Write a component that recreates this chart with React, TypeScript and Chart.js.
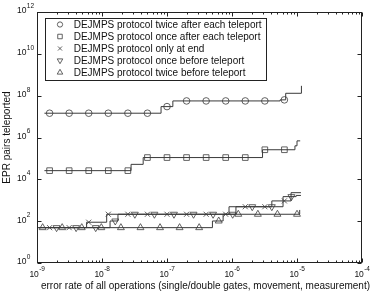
import React, { useEffect, useRef } from 'react';
import { Chart, registerables } from 'chart.js';

Chart.register(...registerables);

// ---------- data ----------
const seriesLabels = [
  'DEJMPS protocol twice after each teleport',
  'DEJMPS protocol once after each teleport',
  'DEJMPS protocol only at end',
  'DEJMPS protocol once before teleport',
  'DEJMPS protocol twice before teleport',
];

// circles: twice after each teleport
const circleStepX = [1.3e-9, 8.1e-8, 1.23e-7, 5.5e-6, 6.7e-6, 1.17e-5];
const circleStepY = [1.45e7, 3.0e7, 5.6e7, 6.3e7, 1.3e8, 2.95e8];
const circleMarkX = [1.5625e-9, 3.125e-9, 6.25e-9, 1.25e-8, 2.5e-8, 5e-8, 1e-7, 2e-7, 4e-7, 8e-7, 1.6e-6, 3.2e-6, 6.4e-6];
const circleMarkY = [1.45e7, 1.45e7, 1.45e7, 1.45e7, 1.45e7, 1.45e7, 3.0e7, 5.6e7, 5.6e7, 5.6e7, 5.6e7, 5.6e7, 6.3e7];

// squares: once after each teleport
const squareStepX = [1.3e-9, 2.8e-8, 4.3e-8, 2.95e-6, 9.3e-6, 1.0e-5, 1.12e-5];
const squareStepY = [2.6e4, 5.2e4, 1.1e5, 2.6e5, 4.0e5, 6.9e5, 6.9e5];
const squareMarkX = [1.5625e-9, 3.125e-9, 6.25e-9, 1.25e-8, 2.5e-8, 5e-8, 1e-7, 2e-7, 4e-7, 8e-7, 1.6e-6, 3.2e-6, 6.4e-6];
const squareMarkY = [2.6e4, 2.6e4, 2.6e4, 2.6e4, 2.6e4, 1.1e5, 1.1e5, 1.1e5, 1.1e5, 1.1e5, 1.1e5, 2.6e5, 2.6e5];

// crosses: only at end
const crossStepX = [1.05e-9, 5.8e-9, 1.18e-8, 9e-7, 4.1e-6, 8.1e-6, 1.15e-5];
const crossStepY = [49, 89, 214, 490, 930, 2300, 2300];
const crossMarkX = [1.5625e-9, 3.125e-9, 6.25e-9, 1.25e-8, 2.5e-8, 5e-8, 1e-7, 2e-7, 4e-7, 8e-7, 1.6e-6, 3.2e-6, 6.4e-6];
const crossMarkY = [49, 49, 89, 214, 214, 214, 214, 214, 214, 214, 490, 490, 930];

// down triangles: once before teleport
const downStepX = [1.05e-9, 1.33e-8, 1.76e-8, 1.15e-6, 6.1e-6, 9.7e-6, 1.15e-5];
const downStepY = [49, 102, 214, 490, 1490, 1700, 1700];
const downMarkX = [2e-9, 4e-9, 8e-9, 1.6e-8, 3.2e-8, 6.4e-8, 1.28e-7, 2.56e-7, 5.12e-7, 1.024e-6, 2.048e-6, 4.096e-6, 8.192e-6];
const downMarkY = [49, 49, 49, 102, 214, 214, 214, 214, 214, 214, 490, 490, 1490];

// up triangles: twice before teleport
const upStepX = [1.05e-9, 5.0e-7, 7.3e-7, 1.1e-5];
const upStepY = [49, 102, 214, 344];
const upMarkX = [1.2207e-9, 2.4414e-9, 4.8828e-9, 9.7656e-9, 1.9531e-8, 3.9063e-8, 7.8125e-8, 1.5625e-7, 3.125e-7, 6.25e-7, 1.25e-6, 2.5e-6, 5e-6, 1e-5];
const upMarkY = [49, 49, 49, 49, 49, 49, 49, 49, 49, 102, 214, 214, 214, 214];

const xTickExps = [-9, -8, -7, -6, -5, -4];
const yTickExps = [0, 2, 4, 6, 8, 10, 12];
const xTitle = 'error rate of all operations (single/double gates, movement, measurement)';
const yTitle = 'EPR pairs teleported';

// ---------- styling ----------
const FONT = '"Liberation Sans", Arial, Helvetica, sans-serif';
const LINE_COLOR = '#3a3a3a';
const MARK_COLOR = '#505050';
const AXIS_COLOR = '#222';

type MarkerStyle = 'circle' | 'rect' | 'crossRot' | 'triangleDown' | 'triangle';
const markerStyles: MarkerStyle[] = ['circle', 'rect', 'crossRot', 'triangleDown', 'triangle'];
const markerRadius = [3.3, 4, 3.6, 4, 4];

const zip = (xs: number[], ys: number[]) => xs.map((x, i) => ({ x, y: ys[i] }));

function drawMarker(ctx: CanvasRenderingContext2D, style: MarkerStyle, x: number, y: number, r: number) {
  ctx.beginPath();
  if (style === 'circle') {
    ctx.arc(x, y, r, 0, Math.PI * 2);
  } else if (style === 'rect') {
    const s = r * Math.SQRT1_2;
    ctx.rect(x - s, y - s, 2 * s, 2 * s);
  } else if (style === 'crossRot') {
    const s = r * Math.SQRT1_2;
    ctx.moveTo(x - s, y - s); ctx.lineTo(x + s, y + s);
    ctx.moveTo(x - s, y + s); ctx.lineTo(x + s, y - s);
  } else {
    const dir = style === 'triangle' ? 1 : -1;
    let a = 0;
    for (let k = 0; k < 3; k++) {
      const px = x + Math.sin(a) * r;
      const py = y - dir * Math.cos(a) * r;
      if (k === 0) ctx.moveTo(px, py); else ctx.lineTo(px, py);
      a += (2 * Math.PI) / 3;
    }
    ctx.closePath();
  }
  ctx.stroke();
}

function drawPow(ctx: CanvasRenderingContext2D, exp: number, x: number, y: number, mode: 'center' | 'rightBase') {
  const base = '10';
  const sup = String(exp);
  ctx.font = `8.5px ${FONT}`;
  const wb = ctx.measureText(base).width;
  ctx.font = `6.5px ${FONT}`;
  const ws = ctx.measureText(sup).width;
  let bx: number;
  if (mode === 'center') bx = x - (wb + ws) / 2;
  else bx = x - wb;
  ctx.textAlign = 'left';
  ctx.textBaseline = 'middle';
  ctx.font = `8.5px ${FONT}`;
  ctx.fillText(base, bx, y);
  ctx.font = `6.5px ${FONT}`;
  ctx.fillText(sup, bx + wb + 0.3, y - 4.8);
}

const decorPlugin = {
  id: 'decor',
  afterDraw(chart: any) {
    const { ctx, chartArea: a, scales } = chart;
    const xs = scales.x;
    const ys = scales.y;
    ctx.save();
    ctx.strokeStyle = AXIS_COLOR;
    ctx.fillStyle = AXIS_COLOR;
    ctx.lineWidth = 1;
    const L = Math.round(a.left) + 0.5;
    const R = Math.round(a.right) - 0.5;
    const T = Math.round(a.top) + 0.5;
    const B = Math.round(a.bottom) - 0.5;

    // x ticks (major + minor), inward on bottom and top
    ctx.beginPath();
    for (let e = -9; e <= -4; e++) {
      for (let m = 1; m <= 9; m++) {
        const v = m * Math.pow(10, e);
        if (v > 1e-4 * 1.0001) break;
        const px = Math.round(xs.getPixelForValue(v)) + 0.5;
        const len = m === 1 ? 4 : 2;
        ctx.moveTo(px, B); ctx.lineTo(px, B - len);
        ctx.moveTo(px, T); ctx.lineTo(px, T + len);
      }
    }
    // y ticks
    for (const e of yTickExps) {
      const py = Math.round(ys.getPixelForValue(Math.pow(10, e))) + 0.5;
      ctx.moveTo(L, py); ctx.lineTo(L + 4, py);
      ctx.moveTo(R, py); ctx.lineTo(R - 4, py);
    }
    ctx.stroke();

    // frame
    ctx.strokeRect(L, T, R - L, B - T);

    // tick labels
    ctx.fillStyle = '#111';
    for (const e of xTickExps) {
      const px = xs.getPixelForValue(Math.pow(10, e));
      drawPow(ctx, e, px, a.bottom + 11.5, 'center');
    }
    for (const e of yTickExps) {
      const py = ys.getPixelForValue(Math.pow(10, e));
      drawPow(ctx, e, a.left - 10.5, py - 1, 'rightBase');
    }

    // axis titles
    ctx.font = `10px ${FONT}`;
    ctx.textAlign = 'center';
    ctx.textBaseline = 'alphabetic';
    ctx.fillText(xTitle, 205.5, 288.5);
    ctx.save();
    ctx.translate(10.3, (a.top + a.bottom) / 2);
    ctx.rotate(-Math.PI / 2);
    ctx.fillText(yTitle, 0, 0);
    ctx.restore();

    // legend box
    const bx = 45.5, by = 18.5, bw = 221, bh = 62;
    ctx.fillStyle = '#fff';
    ctx.fillRect(bx, by, bw, bh);
    ctx.strokeStyle = AXIS_COLOR;
    ctx.strokeRect(bx, by, bw, bh);
    ctx.font = `10px ${FONT}`;
    ctx.textAlign = 'left';
    ctx.textBaseline = 'middle';
    for (let i = 0; i < seriesLabels.length; i++) {
      const cy = 24.5 + i * 12;
      ctx.strokeStyle = MARK_COLOR;
      ctx.lineWidth = 0.9;
      drawMarker(ctx, markerStyles[i], 60, cy, markerRadius[i] * 0.8);
      ctx.fillStyle = '#111';
      ctx.fillText(seriesLabels[i], 73.7, cy + 0.5);
    }
    ctx.restore();
  },
};

export default function App() {
  const ref = useRef<HTMLCanvasElement | null>(null);
  useEffect(() => {
    if (!ref.current) return;
    const steps = [
      zip(circleStepX, circleStepY),
      zip(squareStepX, squareStepY),
      zip(crossStepX, crossStepY),
      zip(downStepX, downStepY),
      zip(upStepX, upStepY),
    ];
    const marks = [
      zip(circleMarkX, circleMarkY),
      zip(squareMarkX, squareMarkY),
      zip(crossMarkX, crossMarkY),
      zip(downMarkX, downMarkY),
      zip(upMarkX, upMarkY),
    ];
    const datasets: any[] = [];
    steps.forEach((d, i) => {
      datasets.push({
        type: 'line',
        label: seriesLabels[i] + ' (line)',
        data: d,
        stepped: true,
        showLine: true,
        borderColor: LINE_COLOR,
        borderWidth: 1,
        pointRadius: 0,
        fill: false,
      });
    });
    marks.forEach((d, i) => {
      const st = markerStyles[i];
      datasets.push({
        type: 'scatter',
        label: seriesLabels[i],
        data: d,
        showLine: false,
        pointStyle: st === 'triangleDown' ? 'triangle' : st,
        rotation: st === 'triangleDown' ? 180 : 0,
        pointRadius: markerRadius[i],
        pointBorderWidth: 0.9,
        pointBorderColor: MARK_COLOR,
        pointBackgroundColor: 'rgba(0,0,0,0)',
        borderColor: MARK_COLOR,
        backgroundColor: 'rgba(0,0,0,0)',
      });
    });
    const chart = new Chart(ref.current, {
      type: 'scatter',
      data: { datasets },
      options: {
        responsive: false,
        animation: false,
        devicePixelRatio: 1,
        layout: { padding: { left: 37, top: 12, right: 12, bottom: 30 } },
        plugins: { legend: { display: false }, tooltip: { enabled: false } },
        scales: {
          x: { type: 'logarithmic', min: 1e-9, max: 1e-4, display: false },
          y: { type: 'logarithmic', min: 1, max: 1e12, display: false },
        },
      },
      plugins: [decorPlugin],
    } as any);
    return () => chart.destroy();
  }, []);
  return (
    <div style={{ position: 'absolute', left: 0, top: 0, width: 374, height: 293, background: '#fff' }}>
      <canvas ref={ref} width={374} height={293} style={{ display: 'block' }} />
    </div>
  );
}
